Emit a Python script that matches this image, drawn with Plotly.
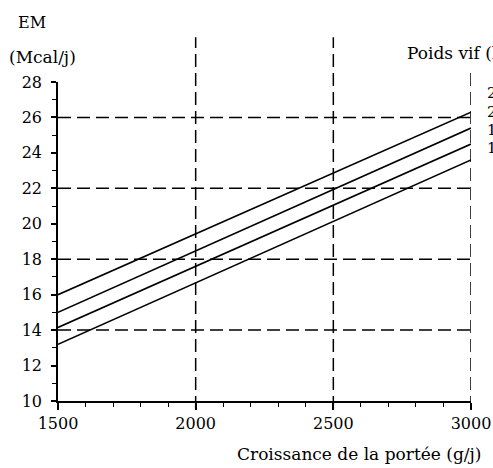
import plotly.graph_objects as go

# Data
growth = [1500, 3000]  # Croissance de la portée (g/j)
em_line1 = [16.0, 26.3]
em_line2 = [15.0, 25.4]
em_line3 = [14.15, 24.5]
em_line4 = [13.2, 23.6]
weight_labels = ["240", "220", "180", "160"]
weight_label_y = [27.36, 26.3, 25.3, 24.3]
grid_x = [2000, 2500, 3000]
grid_x_top = [1.14, 1.14, 1.03]
grid_y = [14, 18, 22, 26]

FONT = "DejaVu Serif"
dash = "13px,6px"

fig = go.Figure()
for ys in [em_line1, em_line2, em_line3, em_line4]:
    fig.add_trace(go.Scatter(x=growth, y=ys, mode="lines",
                             line=dict(color="black", width=1.6),
                             showlegend=False, hoverinfo="skip"))

shapes = []
for gx, top in zip(grid_x, grid_x_top):
    shapes.append(dict(type="line", xref="x", yref="paper", x0=gx, x1=gx,
                       y0=-0.025, y1=top, line=dict(color="black", width=1.5, dash=dash)))
for gy in grid_y:
    shapes.append(dict(type="line", xref="paper", yref="y", x0=0, x1=1.01,
                       y0=gy, y1=gy, line=dict(color="black", width=1.5, dash=dash)))

annotations = [
    dict(text="EM", xref="paper", yref="paper", x=0, y=1, xanchor="left", yanchor="middle",
         xshift=-42, yshift=60, showarrow=False, font=dict(family=FONT, size=16, color="black")),
    dict(text="(Mcal/j)", xref="paper", yref="paper", x=0, y=1, xanchor="left", yanchor="middle",
         xshift=-51, yshift=25, showarrow=False, font=dict(family=FONT, size=17, color="black")),
    dict(text="Poids vif (kg)", xref="paper", yref="paper", x=1, y=1, xanchor="left", yanchor="middle",
         xshift=-66, yshift=29, showarrow=False, font=dict(family=FONT, size=17, color="black")),
    dict(text="Croissance de la portée (g/j)", xref="paper", yref="paper", x=1, y=0,
         xanchor="right", yanchor="middle", xshift=12, yshift=-53, showarrow=False,
         font=dict(family=FONT, size=17, color="black")),
]
for lab, ly in zip(weight_labels, weight_label_y):
    annotations.append(dict(text=lab, xref="paper", yref="y", x=1, y=ly, xanchor="left",
                            yanchor="middle", xshift=15, showarrow=False, borderpad=0,
                            font=dict(family=FONT, size=15, color="black")))

fig.update_layout(
    template="none",
    width=493, height=468, autosize=False,
    margin=dict(l=58, r=22, t=82, b=67, autoexpand=False),
    plot_bgcolor="white", paper_bgcolor="white",
    shapes=shapes, annotations=annotations,
    xaxis=dict(range=[1500, 3000], tickvals=[1500, 2000, 2500, 3000], automargin=False,
               ticks="outside", ticklen=7, tickwidth=1.5, tickcolor="black",
               showline=True, linecolor="black", linewidth=1.6, showgrid=False, zeroline=False,
               minor=dict(dtick=100, ticks="outside", ticklen=4, tickwidth=1.2, tickcolor="black", showgrid=False),
               tickfont=dict(family=FONT, size=16, color="black")),
    yaxis=dict(range=[10, 28], dtick=2, tick0=10, automargin=False,
               ticks="outside", ticklen=5, tickwidth=1.5, tickcolor="black",
               showline=True, linecolor="black", linewidth=1.6, showgrid=False, zeroline=False,
               ticklabelstandoff=6,
               minor=dict(dtick=1, ticks="outside", ticklen=4, tickwidth=1.2, tickcolor="black", showgrid=False),
               tickfont=dict(family=FONT, size=16, color="black")),
)

fig.write_html(
    "out.html",
    config={"displayModeBar": False, "responsive": False},
    post_script=(
        "document.body.style.margin='0';document.body.style.overflow='hidden';"
        "Plotly.relayout(document.getElementById('{plot_id}'), {width: 493, height: 468});"
    ),
)
